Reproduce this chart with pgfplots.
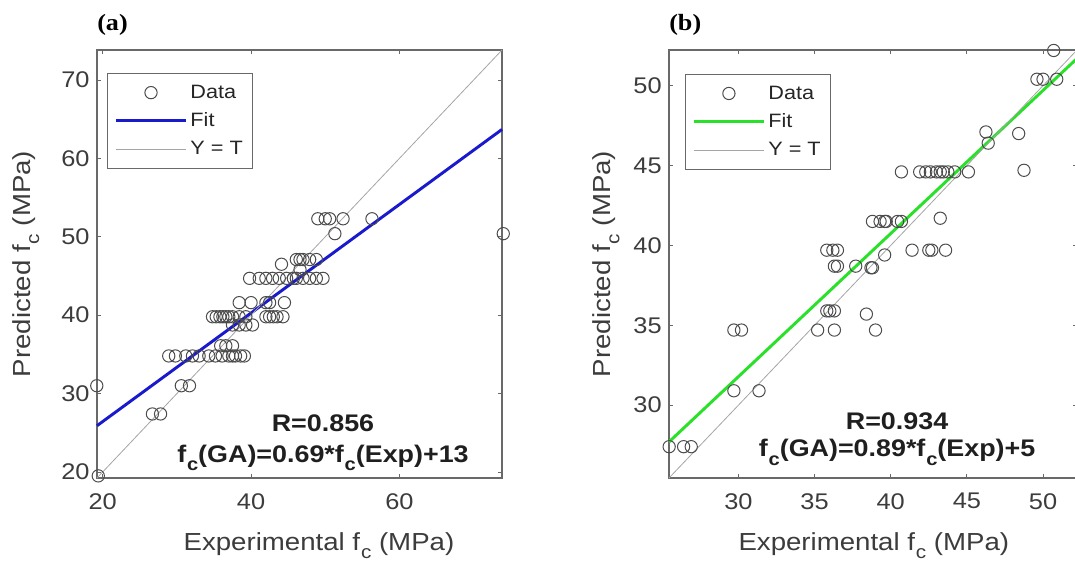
\documentclass[border=0pt]{standalone}
\usepackage{pgfplots}
\pgfplotsset{compat=1.18}
\usepackage{fontspec}
\setmainfont{Liberation Sans}[FakeStretch=1.12]
\newfontfamily\serifb{Liberation Serif}[FakeStretch=1.12]
\definecolor{fitblue}{RGB}{25,25,205}
\definecolor{fitgreen}{RGB}{40,225,40}
\definecolor{ytgray}{RGB}{165,165,165}
\definecolor{axgray}{RGB}{105,105,105}
\definecolor{tickgray}{RGB}{60,60,60}
\newcommand{\fc}{f\kern0.6pt\raisebox{-0.65ex}{\scalebox{0.75}{c}}}
\pgfplotsset{
  mystyle/.style={
    scale only axis,
    clip=false,
    axis line style={axgray, line width=0.8pt},
    tick style={axgray, line width=0.6pt},
    tick align=inside,
    major tick length=3pt,
    /pgf/number format/assume math mode=true,
    ticklabel style={font=\fontsize{17}{19}\selectfont, text=tickgray},
    xticklabel style={yshift=-8pt},
    yticklabel style={xshift=-2pt},
    label style={font=\fontsize{18.5}{21}\selectfont, text=tickgray},
    legend cell align=left,
    legend style={draw=axgray, line width=0.8pt, fill=white,
      font=\fontsize{14.5}{16}\selectfont, text=black!85,
      inner xsep=5pt, inner ysep=6.5pt, row sep=5.5pt,
      anchor=north west},
    legend image code/.code={\draw[#1] (0pt,0pt) -- (53pt,0pt);},
    datastyle/.style={only marks, mark=o, mark size=4.6pt,
      mark options={draw=black!70, line width=0.75pt},
      legend image code/.code={\path[draw=none,fill=none] (0pt,0pt) -- (53pt,0pt);
        \draw[##1] plot coordinates {(26.5pt,0pt)};}},
  }
}
\begin{document}
\begin{tikzpicture}
\path[use as bounding box] (0,0) rectangle (806.25pt,423.75pt);
% ---------------- (a) ----------------
\begin{axis}[mystyle,
  at={(72.75pt,65.25pt)}, anchor=south west,
  width=303.75pt, height=321pt,
  xmin=19.23, xmax=73.83, ymin=19.23, ymax=73.83,
  xtick={20,40,60}, ytick={20,30,40,50,60,70},
  xlabel={Experimental \fc\ (MPa)},
  ylabel={Predicted \fc\ (MPa)},
  xlabel style={at={(axis description cs:0.548,-0.158)}, anchor=center},
  ylabel style={at={(axis description cs:-0.175,0.5)}, anchor=center},
  legend style={at={(0.0247,0.946)}},
]
\addplot[datastyle] coordinates {
 (19.2,31.0) (19.4,19.5) (26.7,27.4) (27.8,27.4) (30.6,31.0) (31.7,31.0)
 (28.9,34.8) (29.8,34.8) (31.2,34.8) (32.1,34.8) (33.0,34.8) (34.3,34.8) (35.2,34.8)
 (36.1,34.8) (37.0,34.8) (37.5,34.8) (37.9,34.8) (38.6,34.8) (39.1,34.8)
 (35.9,36.1) (36.6,36.1) (37.5,36.1)
 (34.8,39.8) (35.3,39.8) (35.8,39.8) (36.2,39.8) (36.6,39.8) (37.0,39.8) (37.5,39.8) (38.4,39.8) (39.3,39.8)
 (37.5,38.75) (38.4,38.75) (39.3,38.75) (40.2,38.75)
 (38.4,41.6) (40.0,41.6) (42.0,41.6) (42.5,41.6) (44.5,41.6)
 (42.0,39.8) (42.5,39.8) (43.0,39.8) (43.5,39.8) (44.3,39.8)
 (39.8,44.7) (41.1,44.7) (42.0,44.7) (42.9,44.7) (43.8,44.7) (44.8,44.7) (45.7,44.7)
 (46.1,44.7) (47.0,44.7) (47.9,44.7) (48.8,44.7) (49.7,44.7)
 (44.1,46.5) (46.6,45.8)
 (46.1,47.1) (46.6,47.1) (47.0,47.1) (47.9,47.1) (48.8,47.1)
 (49.0,52.3) (50.0,52.3) (50.6,52.3) (52.4,52.3) (56.3,52.3)
 (51.3,50.4) (74.0,50.4)
};
\addlegendentry{Data}
\addplot[fitblue, line width=2.2pt] coordinates {(19.23,25.9) (73.83,63.7)};
\addlegendentry{Fit}
\addplot[ytgray, line width=0.6pt] coordinates {(19.23,19.23) (73.83,73.83)};
\addlegendentry{Y = T}
\node[font=\fontsize{18}{20}\selectfont\bfseries, text=black!88] at (rel axis cs:0.558,0.1285) {R=0.856};
\node[font=\fontsize{18}{20}\selectfont\bfseries, text=black!88] at (rel axis cs:0.558,0.047) {\fc(GA)=0.69*\fc(Exp)+13};
\node[font=\serifb\fontsize{17.5}{20}\selectfont\bfseries, anchor=west, inner sep=0pt] at (rel axis cs:0,1.058) {(a)};
\end{axis}
% ---------------- (b) ----------------
\begin{axis}[mystyle,
  at={(501.75pt,65.25pt)}, anchor=south west,
  width=306pt, height=321pt,
  xmin=25.44, xmax=52.23, ymin=25.44, ymax=52.23,
  xtick={30,35,40,45,50}, ytick={30,35,40,45,50},
  xlabel={Experimental \fc\ (MPa)},
  ylabel={Predicted \fc\ (MPa)},
  xlabel style={at={(axis description cs:0.502,-0.158)}, anchor=center},
  ylabel style={at={(axis description cs:-0.154,0.5)}, anchor=center},
  legend style={at={(0.039,0.944)}},
]
\addplot[datastyle] coordinates {
 (25.45,27.4) (26.4,27.4) (26.9,27.4)
 (29.7,30.9) (31.35,30.9)
 (29.7,34.7) (30.2,34.7)
 (35.2,34.7) (36.3,34.7)
 (35.8,35.9) (36.0,35.9) (36.3,35.9)
 (38.4,35.7) (39.0,34.7)
 (35.8,39.7) (36.2,39.7) (36.5,39.7)
 (36.3,38.7) (36.5,38.7) (37.7,38.7) (38.7,38.6) (38.8,38.6)
 (39.6,39.4) (41.4,39.7) (42.5,39.7) (42.7,39.7) (43.6,39.7)
 (38.8,41.5) (39.3,41.5) (39.6,41.5) (39.7,41.5) (40.45,41.5) (40.7,41.5)
 (43.25,41.7)
 (40.7,44.6) (41.9,44.6) (42.3,44.6) (42.6,44.6) (43.0,44.6) (43.25,44.6)
 (43.45,44.6) (43.75,44.6) (44.2,44.6) (45.1,44.6)
 (48.75,44.7)
 (46.25,47.1) (46.4,46.4) (48.4,47.0)
 (49.6,50.4) (50.0,50.4) (50.9,50.4)
 (50.7,52.2)
};
\addlegendentry{Data}
\addplot[fitgreen, line width=2.2pt] coordinates {(25.44,27.7) (52.23,51.7)};
\addlegendentry{Fit}
\addplot[ytgray, line width=0.6pt] coordinates {(25.44,25.44) (52.23,52.23)};
\addlegendentry{Y = T}
\node[font=\fontsize{18}{20}\selectfont\bfseries, text=black!88] at (rel axis cs:0.559,0.133) {R=0.934};
\node[font=\fontsize{18}{20}\selectfont\bfseries, text=black!88] at (rel axis cs:0.559,0.06) {\fc(GA)=0.89*\fc(Exp)+5};
\node[font=\serifb\fontsize{17.5}{20}\selectfont\bfseries, anchor=west, inner sep=0pt] at (rel axis cs:0,1.058) {(b)};
\end{axis}
\end{tikzpicture}
\end{document}
